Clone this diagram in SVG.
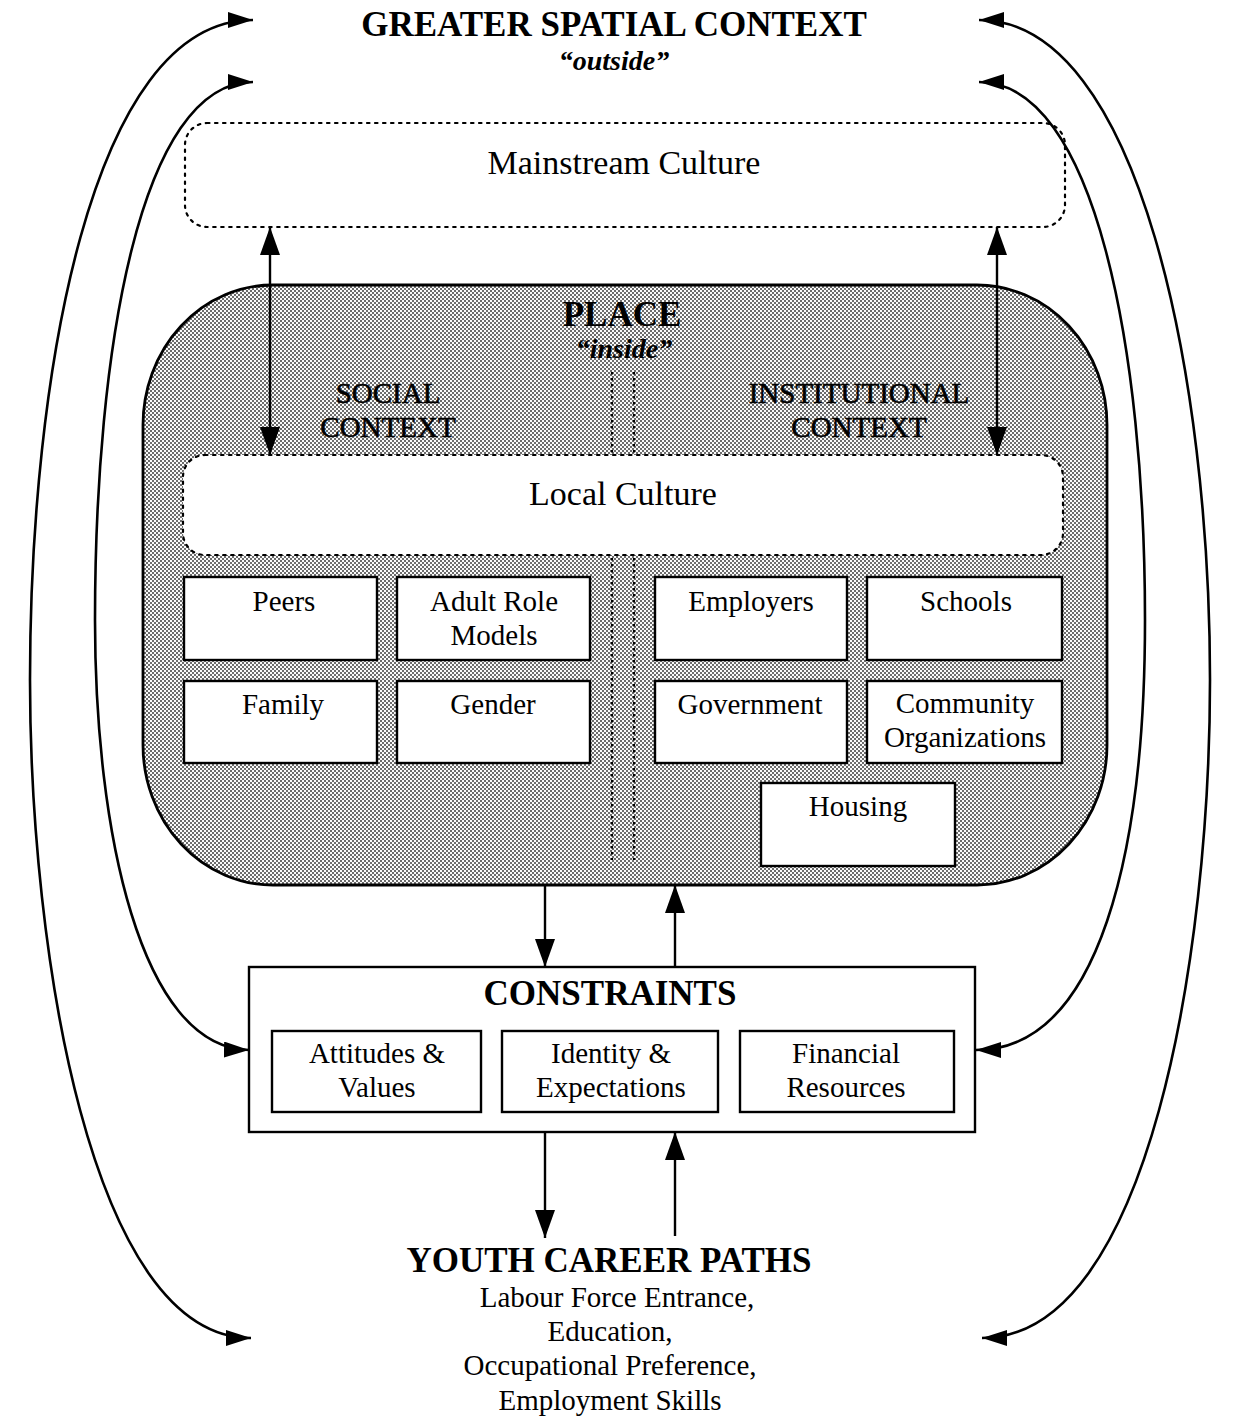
<svg xmlns="http://www.w3.org/2000/svg" width="1239" height="1418" viewBox="0 0 1239 1418">
  <style>
    .serif { font-family: "Liberation Serif", "Times New Roman", serif; fill: #000; }
    .title { font-size: 35px; font-weight: bold; text-anchor: middle; }
    .sub { font-size: 28px; font-weight: bold; font-style: italic; text-anchor: middle; }
    .culture { font-size: 34px; text-anchor: middle; }
    .ctx { font-size: 29px; text-anchor: middle; fill: #000; stroke: #000; stroke-width: 0.6; }
    .lbl { font-size: 29px; text-anchor: middle; }
    .box { fill: #fff; stroke: #000; stroke-width: 2.4; }
    .dotbox { fill: #fff; stroke: #000; stroke-width: 2.2; stroke-dasharray: 2.5 5.5; stroke-linecap: round; }
    .divider { fill: none; stroke: #000; stroke-width: 2.2; stroke-dasharray: 2.5 3.5; }
    .curve { fill: none; stroke: #000; stroke-width: 2.6; marker-start: url(#headS); marker-end: url(#headS); }
    .shaft { fill: none; stroke: #000; stroke-width: 2.4; }
  </style>
  <defs>
    <!-- dithered grey used for the PLACE area -->
    <pattern id="dither" width="4" height="4" patternUnits="userSpaceOnUse">
      <rect width="4" height="4" fill="#fafafa"/>
      <rect x="0" y="0" width="2" height="2" fill="#6c6c6c"/>
      <rect x="2" y="2" width="2" height="2" fill="#6c6c6c"/>
    </pattern>
    <!-- small arrowhead for the curved loops -->
    <marker id="headS" viewBox="0 0 25 16" refX="25" refY="8" markerWidth="25" markerHeight="16" markerUnits="userSpaceOnUse" orient="auto-start-reverse">
      <path d="M0,0 L25,8 L0,16 z" fill="#000"/>
    </marker>
    <!-- larger arrowhead for the straight vertical links -->
    <marker id="headL" viewBox="0 0 28 20" refX="28" refY="10" markerWidth="28" markerHeight="20" markerUnits="userSpaceOnUse" orient="auto-start-reverse">
      <path d="M0,0 L28,10 L0,20 z" fill="#000"/>
    </marker>
  </defs>

  <rect width="1239" height="1418" fill="#fff"/>

  <!-- Outer context heading -->
  <g id="greater-spatial-context">
    <text class="serif title" x="614" y="36">GREATER SPATIAL CONTEXT</text>
    <text class="serif sub" x="614" y="70">“outside”</text>
  </g>

  <!-- Mainstream culture -->
  <g id="mainstream-culture">
    <rect class="dotbox" x="185" y="123" width="880" height="104" rx="22" ry="22"/>
    <text class="serif culture" x="624" y="174">Mainstream Culture</text>
  </g>

  <!-- Place: shaded rounded region with its contents -->
  <g id="place">
    <rect x="143" y="285" width="964" height="600" rx="130" ry="140" fill="url(#dither)" stroke="#000" stroke-width="2.8"/>
    <text class="serif title" x="622" y="326">PLACE</text>
    <text class="serif sub" x="624" y="358">“inside”</text>
    <text class="serif ctx" x="388" y="403">SOCIAL</text>
    <text class="serif ctx" x="388" y="437">CONTEXT</text>
    <text class="serif ctx" x="859" y="403">INSTITUTIONAL</text>
    <text class="serif ctx" x="859" y="437">CONTEXT</text>
    <line class="divider" x1="612" y1="372" x2="612" y2="860"/>
    <line class="divider" x1="634" y1="372" x2="634" y2="860"/>
  </g>

  <g id="local-culture">
    <rect class="dotbox" x="183" y="455" width="880" height="100" rx="22" ry="22"/>
    <text class="serif culture" x="623" y="505">Local Culture</text>
  </g>

  <g id="peers">
    <rect class="box" x="184" y="577" width="193" height="83"/>
    <text class="serif lbl" x="284" y="611">Peers</text>
  </g>
  <g id="adult-role-models">
    <rect class="box" x="397" y="577" width="193" height="83"/>
    <text class="serif lbl" x="494" y="611">Adult Role</text>
    <text class="serif lbl" x="494" y="645">Models</text>
  </g>
  <g id="family">
    <rect class="box" x="184" y="681" width="193" height="82"/>
    <text class="serif lbl" x="283" y="714">Family</text>
  </g>
  <g id="gender">
    <rect class="box" x="397" y="681" width="193" height="82"/>
    <text class="serif lbl" x="493" y="714">Gender</text>
  </g>
  <g id="employers">
    <rect class="box" x="655" y="577" width="192" height="83"/>
    <text class="serif lbl" x="751" y="611">Employers</text>
  </g>
  <g id="schools">
    <rect class="box" x="867" y="577" width="195" height="83"/>
    <text class="serif lbl" x="966" y="611">Schools</text>
  </g>
  <g id="government">
    <rect class="box" x="655" y="681" width="192" height="82"/>
    <text class="serif lbl" x="750" y="714">Government</text>
  </g>
  <g id="community-organizations">
    <rect class="box" x="867" y="681" width="195" height="82"/>
    <text class="serif lbl" x="965" y="713">Community</text>
    <text class="serif lbl" x="965" y="747">Organizations</text>
  </g>
  <g id="housing">
    <rect class="box" x="761" y="783" width="194" height="83"/>
    <text class="serif lbl" x="858" y="816">Housing</text>
  </g>

  <!-- Constraints -->
  <g id="constraints">
    <rect class="box" x="249" y="967" width="726" height="165"/>
    <text class="serif title" x="610" y="1005">CONSTRAINTS</text>
  </g>
  <g id="attitudes-values">
    <rect class="box" x="272" y="1031" width="209" height="81"/>
    <text class="serif lbl" x="377" y="1063">Attitudes &amp;</text>
    <text class="serif lbl" x="377" y="1097">Values</text>
  </g>
  <g id="identity-expectations">
    <rect class="box" x="502" y="1031" width="216" height="81"/>
    <text class="serif lbl" x="611" y="1063">Identity &amp;</text>
    <text class="serif lbl" x="611" y="1097">Expectations</text>
  </g>
  <g id="financial-resources">
    <rect class="box" x="740" y="1031" width="214" height="81"/>
    <text class="serif lbl" x="846" y="1063">Financial</text>
    <text class="serif lbl" x="846" y="1097">Resources</text>
  </g>

  <!-- Outcomes -->
  <g id="youth-career-paths">
    <text class="serif title" x="609" y="1272">YOUTH CAREER PATHS</text>
    <text class="serif lbl" x="617" y="1307">Labour Force Entrance,</text>
    <text class="serif lbl" x="610" y="1341">Education,</text>
    <text class="serif lbl" x="610" y="1375">Occupational Preference,</text>
    <text class="serif lbl" x="610" y="1410">Employment Skills</text>
  </g>

  <!-- Connectors -->
  <g id="connectors">
    <!-- culture links -->
    <line class="shaft" x1="270" y1="227" x2="270" y2="455" marker-start="url(#headL)" marker-end="url(#headL)"/>
    <line class="shaft" x1="997" y1="227" x2="997" y2="455" marker-start="url(#headL)" marker-end="url(#headL)"/>
    <!-- place <-> constraints -->
    <line class="shaft" x1="545" y1="885" x2="545" y2="967" marker-end="url(#headL)"/>
    <line class="shaft" x1="675" y1="967" x2="675" y2="885" marker-end="url(#headL)"/>
    <!-- constraints <-> career paths -->
    <line class="shaft" x1="545" y1="1132" x2="545" y2="1238" marker-end="url(#headL)"/>
    <line class="shaft" x1="675" y1="1236" x2="675" y2="1132" marker-end="url(#headL)"/>
    <!-- outer loops -->
    <path class="curve" d="M253,20 C90,20 30,380 30,680 C30,950 90,1338 251,1338"/>
    <path class="curve" d="M253,82 C140,82 95,350 95,620 C95,830 140,1048 249,1050"/>
    <path class="curve" d="M979,20 C1140,20 1210,380 1210,680 C1210,950 1150,1338 982,1338"/>
    <path class="curve" d="M979,82 C1095,82 1145,350 1145,620 C1145,850 1100,1050 976,1050"/>
  </g>
</svg>
